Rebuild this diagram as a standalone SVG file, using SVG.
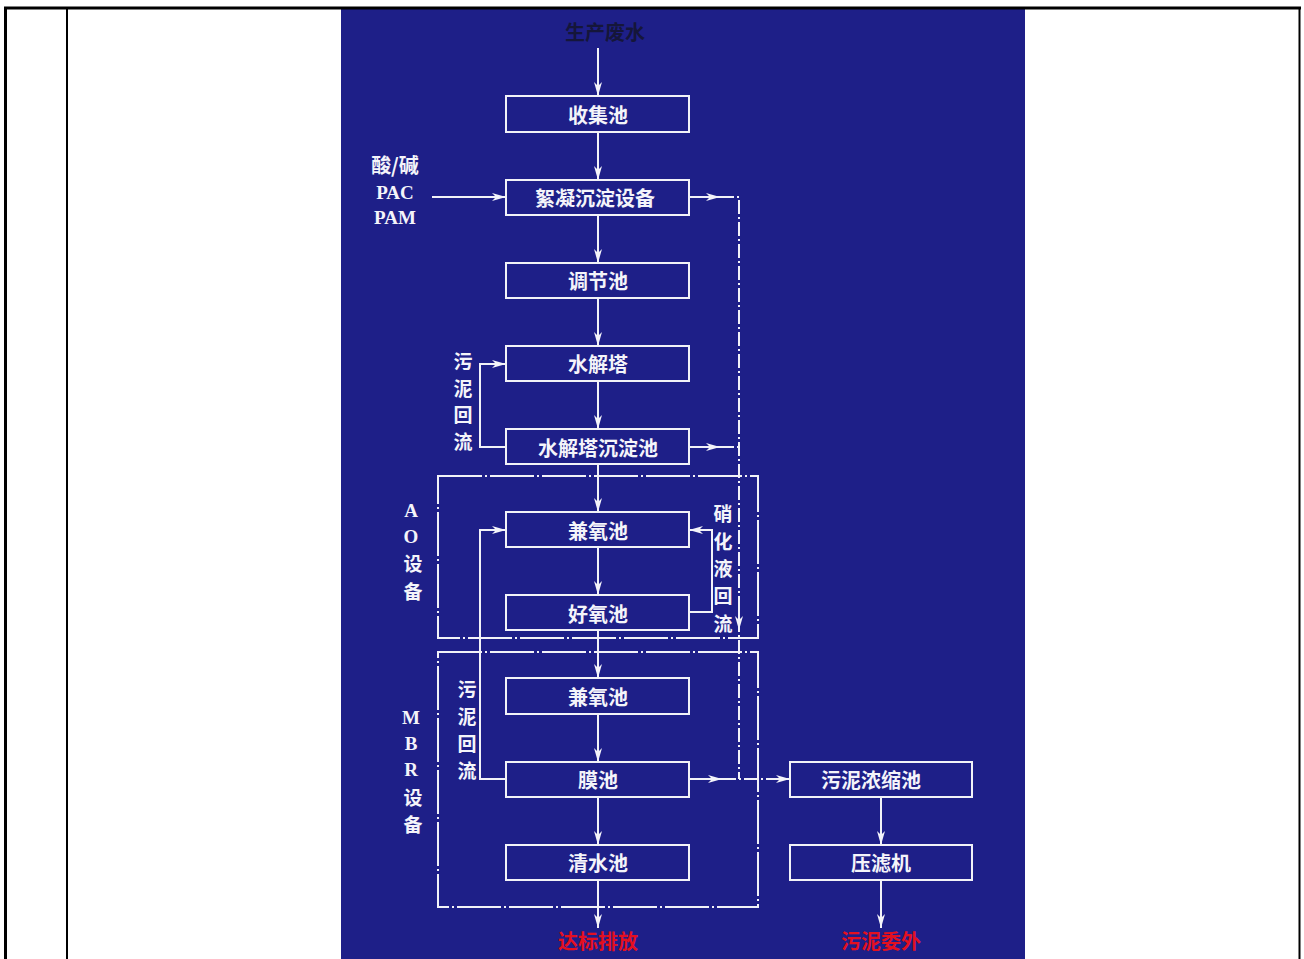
<svg xmlns="http://www.w3.org/2000/svg" width="1304" height="959" viewBox="0 0 1304 959">
  <style>
    .frame { fill: none; stroke: #000; }
    .box { fill: none; stroke: #f2f2f8; stroke-width: 2; }
    .line { fill: none; stroke: #f2f2f8; stroke-width: 2; }
    .dash { fill: none; stroke: #f2f2f8; stroke-width: 2; stroke-dasharray: 14 3 2 3; }
    .group { fill: none; stroke: #f2f2f8; stroke-width: 2; stroke-dasharray: 44 3 2 3; }
    .lbl { font-family: "Noto Sans CJK SC", "Liberation Sans", sans-serif; font-size: 20px; font-weight: bold; fill: #f4f4fa; text-anchor: middle; dominant-baseline: central; }
    .vert { font-family: "Noto Sans CJK SC", "Liberation Sans", sans-serif; font-size: 19px; font-weight: bold; fill: #f4f4fa; text-anchor: middle; dominant-baseline: central; }
    .side { font-family: "Liberation Serif", "Noto Sans CJK SC", serif; font-size: 19px; font-weight: bold; fill: #f4f4fa; text-anchor: middle; dominant-baseline: central; }
    .red { font-family: "Noto Sans CJK SC", sans-serif; font-size: 20px; font-weight: bold; fill: #e41020; text-anchor: middle; dominant-baseline: central; }
    .dark { font-family: "Noto Sans CJK SC", sans-serif; font-size: 20px; font-weight: bold; fill: #15163a; text-anchor: middle; dominant-baseline: central; }
  </style>
  <defs>
    <marker id="arr" viewBox="0 0 14 8" refX="14" refY="4" markerWidth="14" markerHeight="8" markerUnits="userSpaceOnUse" orient="auto">
      <path d="M0,0 L14,4 L0,8 L4,4 Z" fill="#f4f4fa"/>
    </marker>
  </defs>

  <!-- page table -->
  <rect x="0" y="0" width="1304" height="959" fill="#fff"/>
  <rect x="341" y="9" width="684" height="950" fill="#1e1f88"/>
  <g id="table">
    <line class="frame" x1="4" y1="8" x2="1301" y2="8" stroke-width="3"/>
    <line class="frame" x1="5.5" y1="7" x2="5.5" y2="959" stroke-width="3"/>
    <line class="frame" x1="67" y1="9" x2="67" y2="959" stroke-width="2"/>
    <line class="frame" x1="1299.5" y1="7" x2="1299.5" y2="959" stroke-width="2"/>
  </g>

  <!-- equipment groups -->
  <g id="ao-group">
    <rect class="group" x="438" y="476" width="320" height="162"/>
    <text class="side" x="411" y="510">A</text>
    <text class="side" x="411" y="536">O</text>
    <text class="vert" x="413" y="562">设</text>
    <text class="vert" x="413" y="590">备</text>
  </g>
  <g id="mbr-group">
    <rect class="group" x="438" y="652" width="320" height="255"/>
    <text class="side" x="411" y="717">M</text>
    <text class="side" x="411" y="743">B</text>
    <text class="side" x="411" y="769">R</text>
    <text class="vert" x="413" y="796">设</text>
    <text class="vert" x="413" y="823">备</text>
  </g>

  <!-- connectors -->
  <g id="connectors">
    <line class="line" x1="598" y1="48" x2="598" y2="96" marker-end="url(#arr)"/>
    <line class="line" x1="598" y1="132" x2="598" y2="180" marker-end="url(#arr)"/>
    <line class="line" x1="432" y1="197" x2="506" y2="197" marker-end="url(#arr)"/>
    <line class="line" x1="598" y1="215" x2="598" y2="263" marker-end="url(#arr)"/>
    <line class="line" x1="598" y1="298" x2="598" y2="346" marker-end="url(#arr)"/>
    <line class="line" x1="598" y1="381" x2="598" y2="429" marker-end="url(#arr)"/>
    <line class="line" x1="598" y1="464" x2="598" y2="512" marker-end="url(#arr)"/>
    <line class="line" x1="598" y1="547" x2="598" y2="595" marker-end="url(#arr)"/>
    <line class="line" x1="598" y1="630" x2="598" y2="678" marker-end="url(#arr)"/>
    <line class="line" x1="598" y1="714" x2="598" y2="762" marker-end="url(#arr)"/>
    <line class="line" x1="598" y1="797" x2="598" y2="845" marker-end="url(#arr)"/>
    <line class="line" x1="598" y1="880" x2="598" y2="928" marker-end="url(#arr)"/>
    <line class="line" x1="881" y1="797" x2="881" y2="845" marker-end="url(#arr)"/>
    <line class="line" x1="881" y1="880" x2="881" y2="928" marker-end="url(#arr)"/>

    <!-- sludge return to hydrolysis tower -->
    <path class="line" d="M506,447 H480 V364 H506" marker-end="url(#arr)"/>
    <!-- sludge return from membrane tank -->
    <path class="line" d="M506,779 H480 V530 H506" marker-end="url(#arr)"/>
    <!-- nitrified liquid return -->
    <path class="line" d="M689,612 H712 V530 H689" marker-end="url(#arr)"/>

    <!-- sludge discharge lines -->
    <line class="line" x1="689" y1="197" x2="720" y2="197" marker-end="url(#arr)"/>
    <path class="dash" d="M720,197 H739 V779"/>
    <line class="line" x1="689" y1="447" x2="720" y2="447" marker-end="url(#arr)"/>
    <line class="dash" x1="720" y1="447" x2="739" y2="447"/>
    <line class="line" x1="739" y1="608" x2="739" y2="630" marker-end="url(#arr)"/>
    <line class="line" x1="689" y1="779" x2="722" y2="779" marker-end="url(#arr)"/>
    <line class="dash" x1="722" y1="779" x2="774" y2="779"/>
    <line class="line" x1="774" y1="779" x2="790" y2="779" marker-end="url(#arr)"/>
  </g>

  <!-- inputs and outputs -->
  <g id="input-wastewater"><text class="dark" x="605" y="31">生产废水</text></g>
  <g id="input-chemicals">
    <text class="lbl" x="395" y="164">酸/碱</text>
    <text class="side" x="395" y="192" font-size="20">PAC</text>
    <text class="side" x="395" y="217" font-size="20">PAM</text>
  </g>
  <g id="label-return-1">
    <text class="vert" x="463" y="360">污</text>
    <text class="vert" x="463" y="387">泥</text>
    <text class="vert" x="463" y="413">回</text>
    <text class="vert" x="463" y="440">流</text>
  </g>
  <g id="label-return-2">
    <text class="vert" x="467" y="688">污</text>
    <text class="vert" x="467" y="715">泥</text>
    <text class="vert" x="467" y="742">回</text>
    <text class="vert" x="467" y="769">流</text>
  </g>
  <g id="label-nitrate">
    <text class="vert" x="723" y="512">硝</text>
    <text class="vert" x="723" y="540">化</text>
    <text class="vert" x="723" y="567">液</text>
    <text class="vert" x="723" y="594">回</text>
    <text class="vert" x="723" y="622">流</text>
  </g>
  <g id="out-discharge"><text class="red" x="598" y="940">达标排放</text></g>
  <g id="out-sludge"><text class="red" x="881" y="940">污泥委外</text></g>

  <!-- process units -->
  <g id="collect"><rect class="box" x="506" y="96" width="183" height="36"/><text class="lbl" x="598" y="114">收集池</text></g>
  <g id="floc"><rect class="box" x="506" y="180" width="183" height="35"/><text class="lbl" x="595" y="197">絮凝沉淀设备</text></g>
  <g id="equal"><rect class="box" x="506" y="263" width="183" height="35"/><text class="lbl" x="598" y="280">调节池</text></g>
  <g id="hydro"><rect class="box" x="506" y="346" width="183" height="35"/><text class="lbl" x="598" y="363">水解塔</text></g>
  <g id="hydro-settle"><rect class="box" x="506" y="429" width="183" height="35"/><text class="lbl" x="598" y="447">水解塔沉淀池</text></g>
  <g id="anoxic-1"><rect class="box" x="506" y="512" width="183" height="35"/><text class="lbl" x="598" y="530">兼氧池</text></g>
  <g id="aerobic"><rect class="box" x="506" y="595" width="183" height="35"/><text class="lbl" x="598" y="613">好氧池</text></g>
  <g id="anoxic-2"><rect class="box" x="506" y="678" width="183" height="36"/><text class="lbl" x="598" y="696">兼氧池</text></g>
  <g id="membrane"><rect class="box" x="506" y="762" width="183" height="35"/><text class="lbl" x="598" y="779">膜池</text></g>
  <g id="clear"><rect class="box" x="506" y="845" width="183" height="35"/><text class="lbl" x="598" y="862">清水池</text></g>
  <g id="thicken"><rect class="box" x="790" y="762" width="182" height="35"/><text class="lbl" x="871" y="779">污泥浓缩池</text></g>
  <g id="press"><rect class="box" x="790" y="845" width="182" height="35"/><text class="lbl" x="881" y="862">压滤机</text></g>
</svg>
